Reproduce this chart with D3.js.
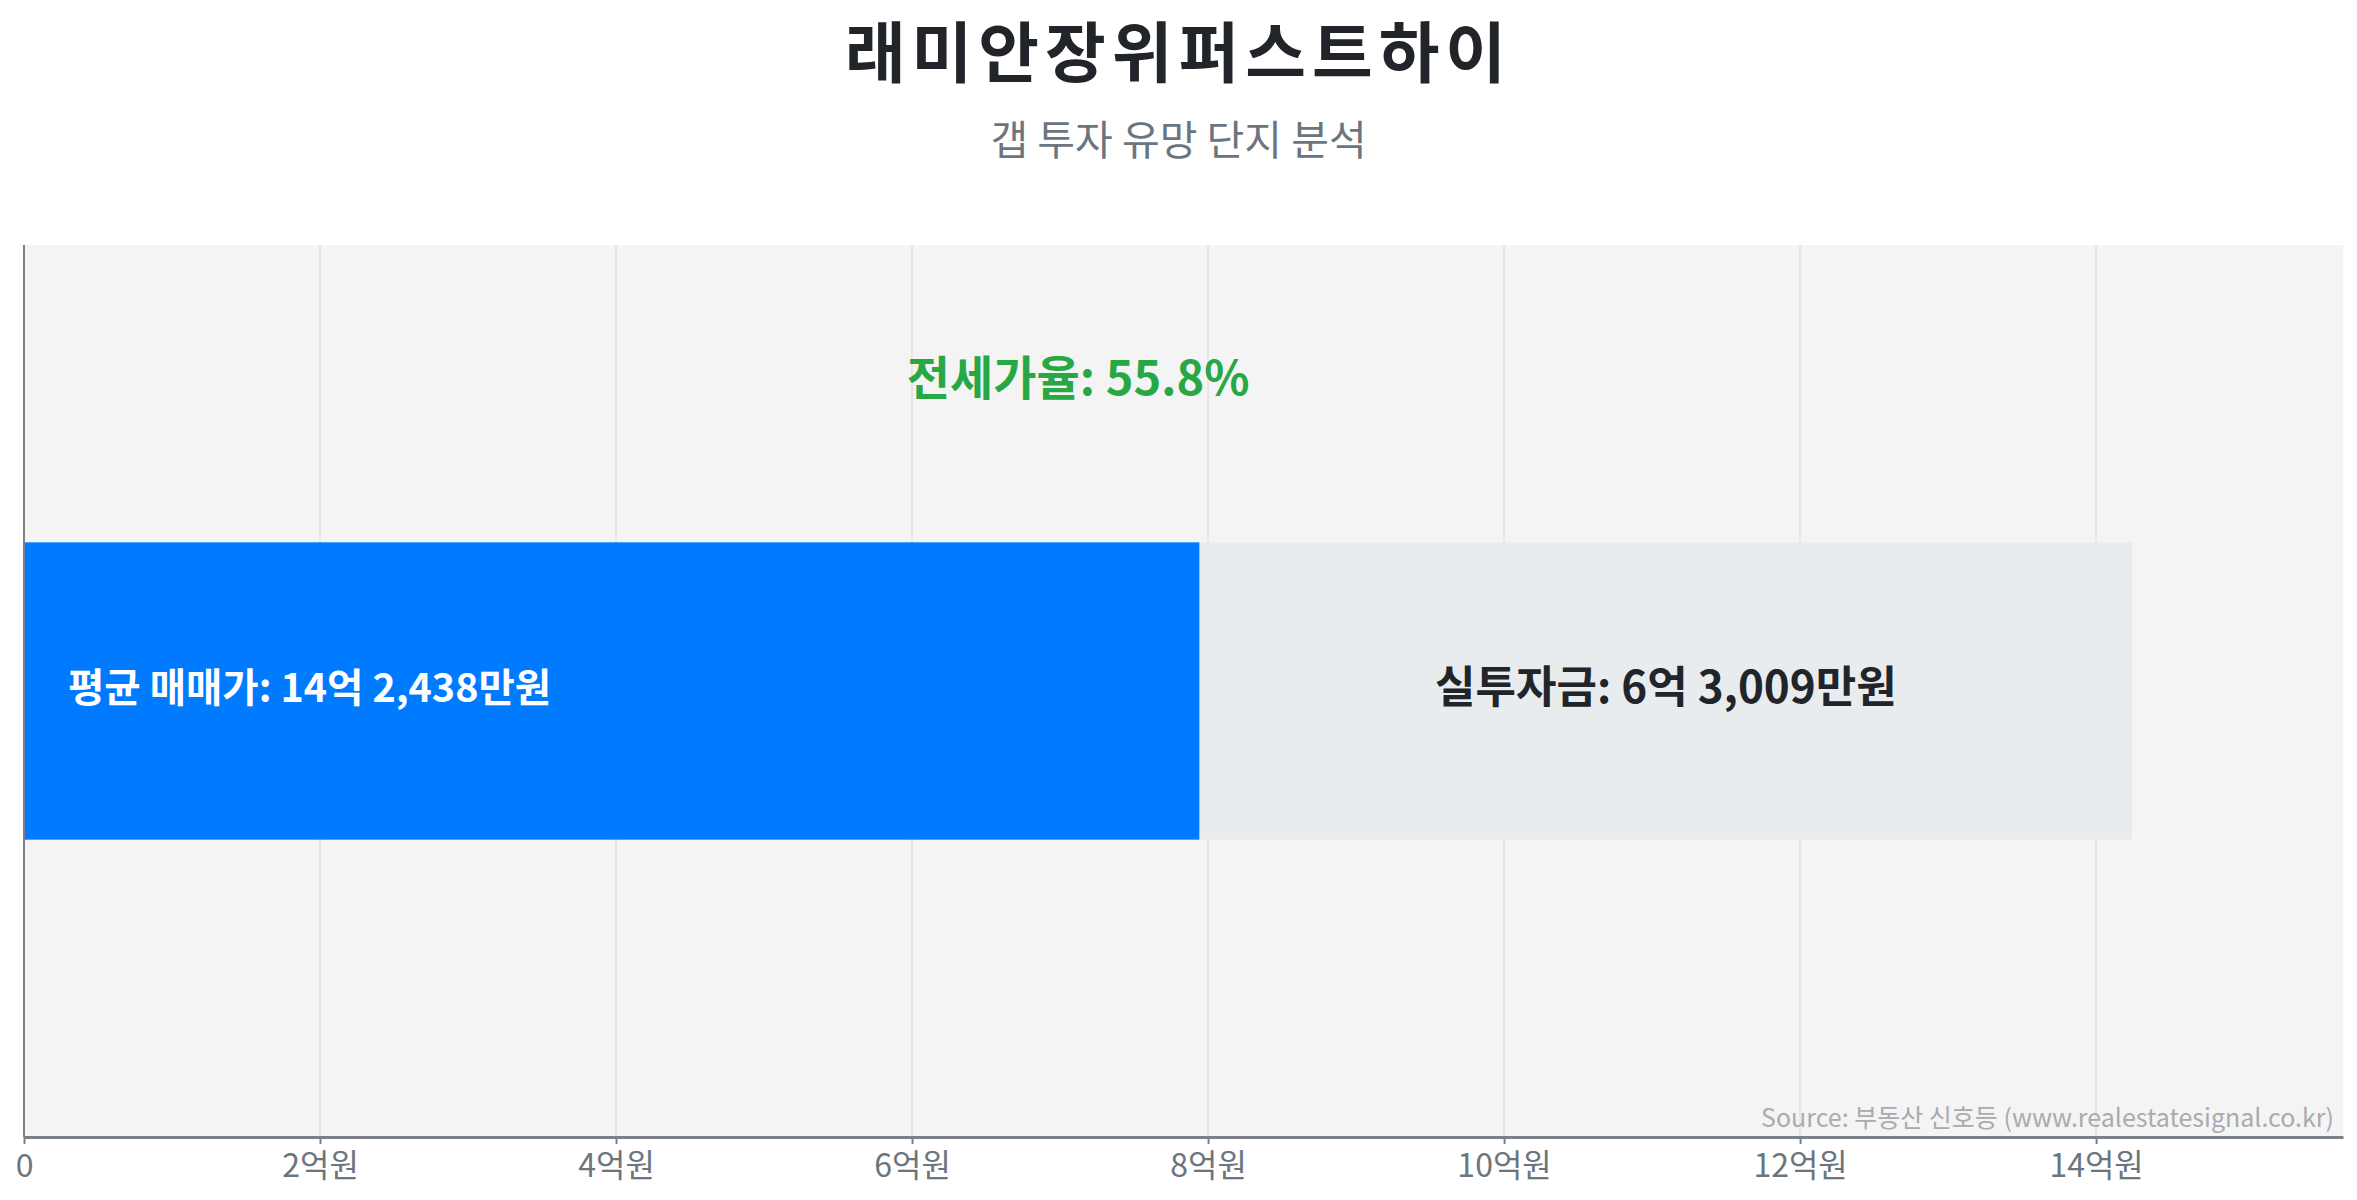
<!DOCTYPE html>
<html><head><meta charset="utf-8">
<script src="https://cdn.jsdelivr.net/npm/d3@7"></script>
<style>
html,body{margin:0;padding:0;background:#fff;}
svg text{font-family:"Noto Sans CJK KR","Noto Sans",sans-serif;}
</style></head>
<body><svg id="chart" width="2357" height="1200"></svg>
<script>
// ---- data ----
const titleText = "래미안장위퍼스트하이";
const subtitleText = "갭 투자 유망 단지 분석";
const categories = ["래미안장위퍼스트하이"];
const salePrice = [14.2438];     // 평균 매매가 (억원)
const jeonsePrice = [7.9429];    // 전세가 (억원)
const gapInvest = [6.3009];      // 실투자금 (억원)
const jeonseRatio = [55.8];      // %
const saleLabel = ["평균 매매가: 14억 2,438만원"];
const gapLabel = ["실투자금: 6억 3,009만원"];
const ratioLabel = ["전세가율: 55.8%"];
const tickValues = [0, 2, 4, 6, 8, 10, 12, 14];
const tickLabels = ["0", "2억원", "4억원", "6억원", "8억원", "10억원", "12억원", "14억원"];
const sourceText = "Source: 부동산 신호등 (www.realestatesignal.co.kr)";

// ---- layout ----
const svg = d3.select("#chart");
const W = 2357, H = 1200;
const m = {top: 245, right: 14, bottom: 63, left: 24};
const iw = W - m.left - m.right, ih = H - m.top - m.bottom;

const x = d3.scaleLinear().domain([0, d3.max(salePrice) * 1.1]).range([0, iw]);
const y = d3.scaleBand().domain(categories).range([0, ih]).paddingInner(0.5).paddingOuter(0.5);

svg.append("text").attr("x", W / 2).attr("y", 77).attr("text-anchor", "middle")
  .attr("font-size", 66).attr("font-weight", 700).attr("letter-spacing", 6)
  .attr("fill", "#212529").text(titleText);
svg.append("text").attr("x", W / 2).attr("y", 137).attr("text-anchor", "middle")
  .attr("dominant-baseline", "central").attr("font-size", 41).attr("font-weight", 400)
  .attr("fill", "#6c757d").text(subtitleText);

const g = svg.append("g").attr("transform", `translate(${m.left},${m.top})`);
g.append("rect").attr("width", iw).attr("height", ih).attr("fill", "#f4f4f4");

// gridlines
g.append("g").selectAll("line").data(tickValues.filter(d => d > 0)).join("line")
  .attr("x1", d => x(d)).attr("x2", d => x(d)).attr("y1", 0).attr("y2", ih)
  .attr("stroke", "#e6e6e6").attr("stroke-width", 2);

// bars
const bh = y.bandwidth();
g.selectAll("rect.jeonse").data(categories).join("rect").attr("class", "jeonse")
  .attr("x", x(0)).attr("y", d => y(d)).attr("height", bh)
  .attr("width", (d, i) => x(jeonsePrice[i]) - x(0)).attr("fill", "#007bff");
g.selectAll("rect.gap").data(categories).join("rect").attr("class", "gap")
  .attr("x", (d, i) => x(jeonsePrice[i])).attr("y", d => y(d)).attr("height", bh)
  .attr("width", (d, i) => x(jeonsePrice[i] + gapInvest[i]) - x(jeonsePrice[i])).attr("fill", "#e9ecef");

// labels
g.selectAll("text.sale").data(categories).join("text").attr("class", "sale")
  .attr("x", x(0) + 44).attr("y", d => y(d) + bh / 2 - 7).attr("dominant-baseline", "central")
  .attr("font-size", 39.5).attr("font-weight", 700).attr("fill", "#ffffff")
  .text((d, i) => saleLabel[i]);
g.selectAll("text.gapl").data(categories).join("text").attr("class", "gapl")
  .attr("x", (d, i) => (x(jeonsePrice[i]) + x(jeonsePrice[i] + gapInvest[i])) / 2)
  .attr("y", d => y(d) + bh / 2 - 7).attr("dominant-baseline", "central").attr("text-anchor", "middle")
  .attr("font-size", 44).attr("font-weight", 700).attr("fill", "#212529")
  .text((d, i) => gapLabel[i]);
g.selectAll("text.ratio").data(categories).join("text").attr("class", "ratio")
  .attr("x", (d, i) => x(salePrice[i]) / 2).attr("y", 374 - m.top)
  .attr("dominant-baseline", "central").attr("text-anchor", "middle")
  .attr("font-size", 47).attr("font-weight", 700).attr("fill", "#28a745")
  .text((d, i) => ratioLabel[i]);

// axes
const xAxis = d3.axisBottom(x).tickValues(tickValues).tickFormat((d, i) => tickLabels[i]).tickSize(7).tickSizeOuter(0);
const ax = g.append("g").attr("transform", `translate(0,${ih})`).call(xAxis);
ax.select(".domain").attr("stroke", "#7b8189").attr("stroke-width", 3);
ax.selectAll(".tick line").attr("stroke", "#7b8189").attr("stroke-width", 2);
ax.selectAll(".tick text").attr("fill", "#6c757d").attr("font-size", 32).attr("dy", "0.95em")
  .style("font-family", '"Noto Sans CJK KR","Noto Sans",sans-serif');
g.append("line").attr("x1", 0).attr("x2", 0).attr("y1", 0).attr("y2", ih)
  .attr("stroke", "#7b8189").attr("stroke-width", 2);

// source
svg.append("text").attr("x", 2334).attr("y", 1127).attr("text-anchor", "end")
  .attr("font-size", 25).attr("fill", "#a8abaf").text(sourceText);
</script></body></html>
